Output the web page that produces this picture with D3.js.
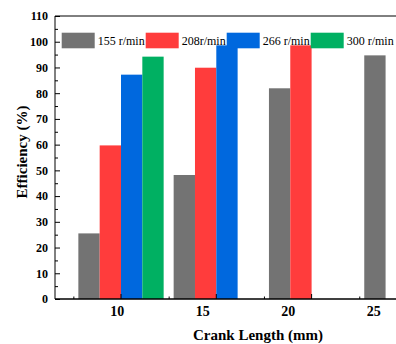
<!DOCTYPE html>
<html>
<head>
<meta charset="utf-8">
<script src="https://cdn.jsdelivr.net/npm/d3@7"></script>
<style>
  body { margin: 0; background: #fff; }
  svg { display: block; }
  svg text { font-family: "Liberation Serif", "Times New Roman", serif; }
  .axis path.domain { display: none; }
  .axis line { stroke: #000; stroke-width: 1; }
  .axis text { fill: #000; font-weight: bold; }
</style>
</head>
<body>
<div id="chart"></div>
<script>
// data
const categories = ["10", "15", "20", "25"];
const seriesNames = ["155 r/min", "208r/min", "266 r/min", "300 r/min"];
const values155 = [25.5, 48.2, 81.9, 94.7];
const values208 = [59.7, 89.9, 98.6, null];
const values266 = [87.2, 98.6, null, null];
const values300 = [94.2, null, null, null];
const yTicks = [0, 10, 20, 30, 40, 50, 60, 70, 80, 90, 100, 110];
const yMinorTicks = [5, 15, 25, 35, 45, 55, 65, 75, 85, 95, 105];

const colors = ["#737373", "#ff3c3c", "#0068de", "#00b062"];

const W = 396, H = 344;
const plot = { left: 55, top: 16, bottom: 299, right: 400 };
const FONT = "'Liberation Serif', 'Times New Roman', serif";

const table = [];
[values155, values208, values266, values300].forEach((vals, si) => {
    vals.forEach((v, ci) => {
        if (v != null) table.push({ cat: categories[ci], series: seriesNames[si], value: v });
    });
});

const svg = d3.select("#chart").append("svg")
    .attr("width", W)
    .attr("height", H);

const step = 95.3;
const x = d3.scaleBand()
    .domain(categories)
    .range([73.35, 73.35 + step * categories.length])
    .paddingInner(0.105)
    .paddingOuter(0.0525);

const xInner = d3.scaleBand()
    .domain(seriesNames)
    .range([0, x.bandwidth()]);

// tick labels sit a bit off the group centres in the original
const xLabel = d3.scalePoint()
    .domain(categories)
    .range([116.7, 373.3]);

const xMinor = d3.scaleLinear()
    .domain([0, categories.length])
    .range([73.35, 73.35 + step * categories.length]);

const y = d3.scaleLinear()
    .domain([0, 110])
    .range([plot.bottom, plot.top]);

const color = d3.scaleOrdinal().domain(seriesNames).range(colors);

// bars
svg.append("g")
    .selectAll("rect")
    .data(table)
    .enter()
    .append("rect")
    .attr("x", d => x(d.cat) + xInner(d.series))
    .attr("y", d => y(d.value))
    .attr("width", xInner.bandwidth())
    .attr("height", d => y(0) - y(d.value))
    .attr("fill", d => color(d.series));

// y axis
svg.append("g")
    .attr("class", "axis")
    .attr("transform", "translate(" + plot.left + ",0)")
    .call(d3.axisLeft(y).tickValues(yTicks).tickSizeInner(-5).tickSizeOuter(0).tickPadding(7))
    .attr("font-family", FONT)
    .attr("font-size", 12);

svg.append("g")
    .attr("class", "axis")
    .attr("transform", "translate(" + plot.left + ",0)")
    .call(d3.axisLeft(y).tickValues(yMinorTicks).tickSize(-3).tickFormat(""));

// x axis ticks (major at group centres, minor between groups)
svg.append("g")
    .attr("class", "axis")
    .attr("transform", "translate(0," + plot.bottom + ")")
    .call(d3.axisBottom(x).tickSizeInner(-5).tickSizeOuter(0).tickFormat(""));

svg.append("g")
    .attr("class", "axis")
    .attr("transform", "translate(0," + plot.bottom + ")")
    .call(d3.axisBottom(xMinor).tickValues([0, 1, 2, 3]).tickSize(-2.5).tickFormat(""));

svg.append("g")
    .attr("class", "axis")
    .attr("transform", "translate(0," + plot.bottom + ")")
    .call(d3.axisBottom(xLabel).tickSize(0).tickPadding(7.5))
    .attr("font-family", FONT)
    .attr("font-size", 14);

// frame lines
svg.append("line")
    .attr("x1", plot.left).attr("x2", plot.right)
    .attr("y1", y(0)).attr("y2", y(0))
    .attr("stroke", "#000").attr("stroke-width", 1.5);
svg.append("line")
    .attr("x1", plot.left).attr("x2", plot.right)
    .attr("y1", y(110)).attr("y2", y(110))
    .attr("stroke", "#000").attr("stroke-width", 1);
svg.append("line")
    .attr("x1", plot.left).attr("x2", plot.left)
    .attr("y1", y(0)).attr("y2", y(110))
    .attr("stroke", "#000").attr("stroke-width", 1);

// axis titles
svg.append("text")
    .attr("x", 258)
    .attr("y", 340)
    .attr("text-anchor", "middle")
    .attr("font-family", FONT)
    .style("font-size", "15px")
    .style("font-weight", "bold")
    .text("Crank Length (mm)");

svg.append("text")
    .attr("transform", "translate(27,152) rotate(-90)")
    .attr("text-anchor", "middle")
    .attr("font-family", FONT)
    .style("font-size", "15px")
    .style("font-weight", "bold")
    .text("Efficiency (%)");

// legend, laid out in a row
const legend = svg.append("g").attr("font-family", FONT);
let lx = 61.7;
seriesNames.forEach(name => {
    legend.append("rect")
        .attr("x", lx)
        .attr("y", 32.7)
        .attr("width", 33)
        .attr("height", 15.6)
        .attr("fill", color(name));
    const t = legend.append("text")
        .attr("x", lx + 36)
        .attr("y", 44.5)
        .style("font-size", "12px")
        .text(name);
    lx = lx + 36 + t.node().getComputedTextLength() + 1;
});
</script>
</body>
</html>
